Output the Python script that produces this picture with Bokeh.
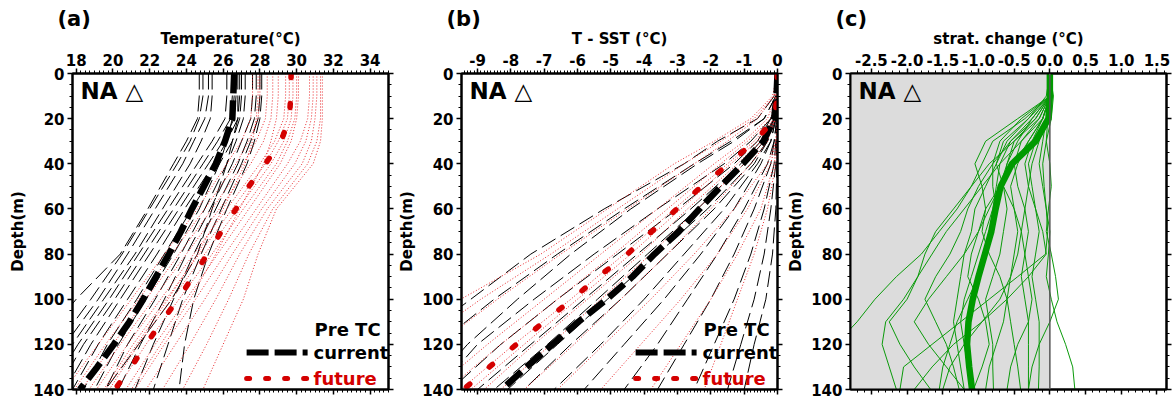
import numpy as np
from bokeh.plotting import figure
from bokeh.layouts import row
from bokeh.models import (Range1d, LinearAxis, FixedTicker, CustomJSTickFormatter,
                          PrintfTickFormatter, Label, BoxAnnotation, Span)
from bokeh.embed import file_html
from bokeh.resources import INLINE

FONT = "DejaVu Sans"

# ---------------- depth levels (m) ----------------
depth_mean = [0, 10, 20, 30, 40, 50, 60, 70, 80, 90, 100, 110, 120, 130, 140]
depth_member = [0, 10, 20, 30, 40, 60, 80, 100, 120, 140]
depth_ticks = [0, 20, 40, 60, 80, 100, 120, 140]

# ---------------- (a) temperature profiles (degC) ----------------
temp_ticks = [18, 20, 22, 24, 26, 28, 30, 32, 34]
temp_current_mean = [26.6, 26.55, 26.5, 26.1, 25.6, 24.95, 24.3, 23.7, 23.05, 22.35,
                     21.65, 20.9, 20.05, 19.15, 18.2]
temp_future_mean = [29.7, 29.68, 29.6, 29.15, 28.3, 27.4, 26.7, 25.9, 25.15, 24.35,
                    23.55, 22.65, 21.8, 21.0, 20.1]
temp_current_members = [
    [24.7, 24.7, 24.6, 24.0, 23.3, 21.9, 20.4, 18.0, 16.0, 14.5],
    [24.9, 24.9, 24.7, 24.2, 23.5, 22.0, 20.5, 18.8, 17.0, 15.3],
    [25.2, 25.2, 25.0, 24.4, 23.8, 22.3, 20.8, 19.2, 17.4, 15.8],
    [25.4, 25.4, 25.3, 24.8, 24.2, 22.7, 21.2, 19.5, 17.8, 16.2],
    [26.2, 26.2, 26.1, 25.4, 24.6, 23.0, 21.4, 19.8, 18.1, 16.6],
    [26.5, 26.5, 26.4, 25.7, 24.9, 23.3, 21.7, 20.1, 18.4, 17.0],
    [26.7, 26.7, 26.6, 26.0, 25.2, 23.6, 22.0, 20.4, 18.8, 17.4],
    [26.9, 26.9, 26.8, 26.2, 25.5, 23.9, 22.4, 20.8, 19.2, 17.8],
    [27.0, 27.0, 26.9, 26.5, 25.8, 24.3, 22.8, 21.3, 19.7, 18.4],
    [26.6, 26.6, 26.5, 26.2, 25.8, 24.7, 23.3, 21.8, 20.3, 19.0],
    [27.2, 27.2, 27.1, 26.7, 26.2, 25.0, 23.7, 22.3, 20.8, 19.6],
    [27.6, 27.6, 27.5, 27.0, 26.5, 25.3, 24.0, 22.8, 21.5, 20.3],
    [27.8, 27.8, 27.7, 27.3, 26.8, 25.6, 24.4, 23.3, 22.2, 21.2],
    [28.0, 28.0, 27.9, 27.5, 27.0, 25.9, 24.8, 23.8, 23.0, 22.2],
    [28.1, 28.1, 28.0, 27.7, 27.3, 26.2, 25.2, 24.4, 23.9, 23.6],
    [26.8, 26.8, 26.8, 26.5, 26.2, 25.4, 24.6, 23.2, 21.4, 19.6],
]
temp_future_members = [
    [27.6, 27.6, 27.5, 27.0, 26.2, 24.6, 22.8, 21.0, 19.2, 17.4],
    [28.0, 28.0, 27.9, 27.4, 26.7, 25.0, 23.2, 21.4, 19.6, 17.9],
    [28.4, 28.4, 28.3, 27.8, 27.1, 25.4, 23.6, 21.8, 20.0, 18.3],
    [28.7, 28.7, 28.6, 28.2, 27.5, 25.8, 24.0, 22.2, 20.4, 18.7],
    [29.4, 29.4, 29.3, 28.8, 28.0, 26.2, 24.4, 22.6, 20.8, 19.1],
    [29.6, 29.6, 29.5, 29.0, 28.3, 26.5, 24.7, 22.9, 21.1, 19.5],
    [29.8, 29.8, 29.7, 29.3, 28.6, 26.8, 25.0, 23.2, 21.4, 19.8],
    [30.0, 30.0, 29.9, 29.5, 28.9, 27.1, 25.4, 23.6, 21.8, 20.2],
    [30.1, 30.1, 30.0, 29.7, 29.1, 27.4, 25.7, 24.0, 22.3, 20.7],
    [30.7, 30.7, 30.6, 30.2, 29.5, 27.8, 26.1, 24.5, 22.8, 21.2],
    [30.9, 30.9, 30.8, 30.5, 29.9, 28.1, 26.5, 25.0, 23.4, 21.8],
    [31.1, 31.1, 31.0, 30.8, 30.3, 28.4, 26.9, 25.6, 24.2, 22.7],
    [31.3, 31.3, 31.3, 31.1, 30.6, 28.7, 27.4, 26.3, 25.1, 23.8],
    [31.4, 31.4, 31.4, 31.3, 30.9, 28.9, 27.9, 27.1, 26.0, 24.9],
    [27.9, 27.9, 27.8, 27.6, 27.2, 26.0, 24.6, 23.0, 21.3, 19.6],
    [29.0, 29.0, 28.9, 28.6, 28.2, 26.9, 25.6, 24.2, 22.6, 21.0],
]

# ---------------- (b) T - SST profiles (degC) ----------------
dsst_ticks = [-9, -8, -7, -6, -5, -4, -3, -2, -1, 0]
dsst_current_mean = [0, -0.03, -0.1, -0.42, -1.04, -1.70, -2.34, -2.96, -3.69, -4.35,
                     -5.12, -5.97, -6.75, -7.53, -8.27]
dsst_future_mean = [0, -0.02, -0.08, -0.68, -1.46, -2.28, -3.02, -3.77, -4.5, -5.37,
                    -6.16, -7.0, -7.83, -8.64, -9.42]
dsst_current_members = [
    [0, -0.05, -0.4, -1.4, -2.5, -4.6, -6.6, -8.5, -10.2, -11.6],
    [0, -0.05, -0.4, -1.3, -2.4, -4.4, -6.2, -7.8, -9.3, -10.5],
    [0, -0.02, -0.2, -0.8, -1.6, -3.6, -5.5, -7.3, -9.0, -10.2],
    [0, -0.02, -0.2, -0.6, -1.3, -3.0, -4.8, -6.6, -8.3, -9.8],
    [0, -0.02, -0.1, -0.5, -1.1, -2.6, -4.2, -5.8, -7.4, -9.0],
    [0, -0.02, -0.1, -0.4, -1.0, -2.4, -3.9, -5.4, -6.9, -8.5],
    [0, 0, -0.1, -0.3, -0.8, -2.1, -3.6, -5.1, -6.6, -8.1],
    [0, 0, -0.05, -0.3, -0.7, -1.9, -3.3, -4.7, -6.2, -7.6],
    [0, 0, -0.05, -0.2, -0.6, -1.6, -2.8, -4.0, -5.3, -6.7],
    [0, 0, -0.05, -0.2, -0.5, -1.3, -2.3, -3.4, -4.6, -5.8],
    [0, 0, -0.02, -0.1, -0.3, -1.0, -1.8, -2.7, -3.6, -4.6],
    [0, 0, -0.02, -0.1, -0.2, -0.7, -1.3, -2.0, -2.8, -3.6],
    [0, 0, 0, -0.05, -0.1, -0.4, -0.8, -1.3, -1.9, -2.5],
    [0, 0, 0, -0.02, -0.05, -0.2, -0.4, -0.7, -1.1, -1.5],
    [0, 0, 0, 0, -0.02, -0.05, -0.15, -0.35, -0.7, -1.0],
    [0, -0.1, -0.6, -1.8, -2.8, -5.2, -7.4, -9.2, -11.0, -12.5],
]
dsst_future_members = [
    [0, -0.15, -0.8, -1.9, -3.1, -5.1, -7.1, -9.5, -11.5, -13.0],
    [0, -0.1, -0.7, -1.7, -2.8, -4.8, -6.8, -8.9, -10.8, -12.4],
    [0, -0.1, -0.6, -1.5, -2.5, -4.5, -6.5, -8.4, -10.2, -11.8],
    [0, -0.05, -0.3, -1.0, -1.9, -3.6, -5.3, -7.0, -8.7, -10.3],
    [0, -0.05, -0.2, -0.9, -1.7, -3.3, -4.9, -6.6, -8.3, -9.9],
    [0, -0.02, -0.1, -0.7, -1.5, -3.1, -4.6, -6.2, -7.9, -9.5],
    [0, -0.02, -0.1, -0.6, -1.4, -2.9, -4.4, -6.0, -7.6, -9.2],
    [0, 0, -0.05, -0.5, -1.2, -2.7, -4.1, -5.7, -7.3, -8.8],
    [0, 0, -0.05, -0.4, -1.0, -2.4, -3.8, -5.3, -6.8, -8.3],
    [0, 0, -0.05, -0.3, -0.8, -2.0, -3.3, -4.7, -6.1, -7.6],
    [0, 0, 0, -0.02, -0.1, -0.5, -1.2, -2.0, -2.9, -3.8],
    [0, 0, 0, -0.05, -0.2, -0.9, -1.8, -2.9, -4.1, -5.3],
    [0, 0, 0, -0.05, -0.3, -1.3, -2.5, -3.8, -5.2, -6.6],
    [0, 0, 0, 0, -0.05, -0.3, -0.7, -1.2, -1.7, -2.2],
]

# ---------------- (c) stratification change (degC) ----------------
strat_ticks = [-2.5, -2.0, -1.5, -1.0, -0.5, 0.0, 0.5, 1.0, 1.5]
strat_mean = [0, 0, -0.02, -0.2, -0.53, -0.69, -0.76, -0.82, -0.91, -1.0,
              -1.08, -1.14, -1.16, -1.13, -1.09]
strat_members = [
    [0, 0, -0.15, -0.5, -0.85, -1.1, -1.3, -1.55, -1.8, -2.15, -2.45, -2.7, -3.0, -3.2, -3.4],
    [0, 0, -0.1, -0.4, -0.7, -0.95, -1.2, -1.45, -1.65, -1.85, -2.05, -2.3, -2.35, -2.25, -2.15],
    [0, 0, -0.03, -0.05, -0.1, -0.08, -0.05, -0.03, -0.06, -0.45, -0.85, -1.25, -1.65, -2.05, -2.1],
    [0, 0, -0.05, -0.1, -0.15, -0.1, -0.05, 0.0, -0.02, -0.05, 0.02, 0.1, 0.22, 0.32, 0.35],
    [0, 0.05, 0.02, -0.05, 0.0, 0.02, -0.02, -0.05, 0.02, 0.08, 0.12, 0.0, -0.15, -0.25, -0.3],
    [0, 0, -0.45, -0.9, -1.05, -0.95, -0.9, -1.0, -1.2, -1.45, -1.7, -1.9, -1.7, -1.45, -1.2],
    [0, 0, -0.35, -0.8, -0.95, -1.1, -1.35, -1.6, -1.75, -1.85, -2.0, -2.25, -2.1, -1.9, -1.67],
    [0, 0, -0.3, -0.6, -0.75, -0.9, -1.05, -1.1, -1.2, -1.25, -1.3, -1.35, -1.3, -1.25, -1.2],
    [0, 0, -0.2, -0.55, -0.7, -0.75, -0.8, -0.9, -1.0, -1.1, -1.2, -1.25, -1.2, -1.15, -1.05],
    [0, 0, -0.25, -0.45, -0.6, -0.65, -0.6, -0.65, -0.7, -0.8, -0.9, -0.85, -0.8, -0.8, -0.79],
    [0, 0, -0.1, -0.3, -0.45, -0.55, -0.5, -0.45, -0.5, -0.55, -0.6, -0.55, -0.5, -0.45, -0.41],
    [0, 0, -0.15, -0.4, -0.5, -0.45, -0.35, -0.3, -0.35, -0.4, -0.35, -0.3, -0.3, -0.3, -0.3],
    [0, 0, -0.05, -0.2, -0.3, -0.25, -0.2, -0.15, -0.2, -0.25, -0.2, -0.15, -0.15, -0.15, -0.16],
    [0, 0, -0.2, -0.5, -0.6, -0.7, -0.85, -1.0, -1.1, -1.15, -1.0, -0.9, -0.85, -0.95, -1.07],
    [0, 0, -0.4, -0.7, -0.8, -0.8, -0.75, -0.8, -0.9, -1.0, -1.15, -1.3, -1.4, -1.5, -1.55],
    [0, 0, -0.1, -0.3, -0.5, -0.7, -0.9, -0.95, -0.85, -0.7, -0.6, -0.65, -0.75, -0.85, -0.9],
    [0, -0.05, -0.3, -0.65, -0.75, -0.65, -0.5, -0.4, -0.45, -0.55, -0.7, -0.95, -1.2, -1.4, -1.5],
    [0, 0, -0.1, -0.25, -0.35, -0.3, -0.2, -0.1, -0.05, -0.3, -0.6, -0.95, -1.35, -1.65, -1.9],
    [0, 0, -0.05, -0.15, -0.25, -0.3, -0.35, -0.4, -0.35, -0.3, -0.25, -0.3, -0.45, -0.55, -0.6],
    [0, 0, -0.25, -0.55, -0.8, -1.0, -1.15, -1.25, -1.4, -1.6, -1.75, -1.6, -1.45, -1.35, -1.27],
]

# ---------------- styling ----------------
BLACK = "#000000"
RED = "#d40000"
RED_THIN = "#e8262a"
GREEN = "#0a9a0a"
FRAME_W, FRAME_H = 316, 316


def style_axis(ax, labelled):
    ax.axis_line_width = 2
    ax.axis_line_color = BLACK
    ax.major_tick_out = 5
    ax.major_tick_in = 0
    ax.minor_tick_out = 3
    ax.minor_tick_in = 0
    ax.major_tick_line_width = 1.5
    ax.minor_tick_line_width = 1
    if labelled:
        ax.major_label_text_font = FONT
        ax.major_label_text_font_style = "bold"
        ax.major_label_text_font_size = "15px"
        ax.major_label_text_color = BLACK
        ax.major_label_standoff = 3
        ax.axis_label_text_font = FONT
        ax.axis_label_text_font_style = "bold"
        ax.axis_label_text_font_size = "15px"
        ax.axis_label_text_color = BLACK
        ax.axis_label_standoff = 3
    else:
        ax.formatter = CustomJSTickFormatter(code="return ''")
        ax.major_label_text_font_size = "0px"
        ax.major_label_standoff = 0


def make_panel(tag, xlabel, x_range, ticks, minor_step, fmt, width, b_left, b_right):
    p = figure(width=width, height=401, x_range=Range1d(*x_range), y_range=Range1d(140, 0),
               x_axis_location="above", y_axis_location="left",
               output_backend="svg", toolbar_location=None,
               min_border_left=b_left, min_border_right=b_right,
               min_border_top=73, min_border_bottom=12, title=tag)
    p.title.text_font = FONT
    p.title.text_font_style = "bold"
    p.title.text_font_size = "21px"
    p.title.text_color = BLACK
    p.title.align = "left"
    p.title.offset = -15
    p.title.standoff = -9
    p.grid.visible = False
    p.outline_line_color = BLACK
    p.outline_line_width = 2
    p.background_fill_color = "white"
    p.border_fill_color = "white"
    p.add_layout(LinearAxis(), "below")
    p.add_layout(LinearAxis(), "right")

    x_minor = list(np.arange(ticks[0] - 2, ticks[-1] + 2, minor_step))
    xt = FixedTicker(ticks=ticks, minor_ticks=x_minor)
    yt = FixedTicker(ticks=depth_ticks, minor_ticks=list(range(0, 141, 5)))

    top_ax = [item for item in p.above if isinstance(item, LinearAxis)][0]
    bottom_ax = p.below[0]
    left_ax, right_ax = p.left[0], p.right[0]
    for ax in (top_ax, bottom_ax):
        ax.ticker = xt
    for ax in (left_ax, right_ax):
        ax.ticker = yt
    style_axis(top_ax, True)
    style_axis(left_ax, True)
    style_axis(bottom_ax, False)
    style_axis(right_ax, False)
    top_ax.axis_label = xlabel
    top_ax.formatter = PrintfTickFormatter(format=fmt)
    left_ax.axis_label = "Depth(m)"
    return p


def add_region_tag(p):
    p.add_layout(Label(x=8, y=FRAME_H - 17, x_units="screen", y_units="screen",
                       text="NA △", text_font=FONT, text_font_style="bold",
                       text_font_size="23px", text_color=BLACK, text_baseline="middle"))


def frame_point(p, fx, fy_top):
    xr, yr = p.x_range, p.y_range
    return (xr.start + fx * (xr.end - xr.start), yr.end + fy_top * (yr.start - yr.end))


def add_key(p):
    # "Pre TC" key with current / future line samples
    for fy, color, dash, lw, cap, text in (
            (0.883, BLACK, "22 6", 6, "butt", "current"),
            (0.965, RED, "3 16", 5, "round", "future")):
        x0, y0 = frame_point(p, 0.551, fy)
        x1, _ = frame_point(p, 0.744, fy)
        p.line([x0, x1], [y0, y0], line_color=color, line_dash=dash,
               line_width=lw, line_cap=cap)
        p.add_layout(Label(x=0.763 * FRAME_W, y=(1 - fy) * FRAME_H,
                           x_units="screen", y_units="screen", text=text,
                           text_font=FONT, text_font_style="bold", text_font_size="18px",
                           text_color=color, text_baseline="middle"))
    p.add_layout(Label(x=0.975 * FRAME_W, y=(1 - 0.81) * FRAME_H,
                       x_units="screen", y_units="screen", text="Pre TC",
                       text_font=FONT, text_font_style="bold", text_font_size="18px",
                       text_color=BLACK, text_align="right", text_baseline="middle"))


def draw_profiles(p, cur_members, fut_members, cur_mean, fut_mean):
    p.multi_line(xs=cur_members, ys=[depth_member] * len(cur_members),
                 line_color=BLACK, line_width=1, line_dash="16 6")
    p.multi_line(xs=fut_members, ys=[depth_member] * len(fut_members),
                 line_color=RED_THIN, line_width=1, line_dash="1 2")
    p.line(cur_mean, depth_mean, line_color=BLACK, line_width=6.5,
           line_dash="20 7", line_cap="butt")
    p.line(fut_mean, depth_mean, line_color=RED, line_width=5.5,
           line_dash="4 26", line_cap="round")


# (a) temperature
pa = make_panel("(a)", "Temperature(°C)", (17.8, 35.0), temp_ticks, 0.25, "%d", 394, 72, 6)
draw_profiles(pa, temp_current_members, temp_future_members, temp_current_mean, temp_future_mean)
add_region_tag(pa)
add_key(pa)

# (b) departure from SST
pb = make_panel("(b)", "T - SST (°C)", (-9.48, 0.0), dsst_ticks, 0.1, "%d", 390, 67, 7)
draw_profiles(pb, dsst_current_members, dsst_future_members, dsst_current_mean, dsst_future_mean)
add_region_tag(pb)
add_key(pb)

# (c) stratification change
pc = make_panel("(c)", "strat. change (°C)", (-2.793, 1.634), strat_ticks, 0.1, "%.1f", 392, 65, 10)
pc.add_layout(BoxAnnotation(right=0, fill_color="#dcdcdc", fill_alpha=1.0,
                            line_alpha=0, level="underlay"))
pc.add_layout(Span(location=0, dimension="height", line_color="#555555", line_width=1.5))
pc.multi_line(xs=strat_members, ys=[depth_mean] * len(strat_members),
              line_color=GREEN, line_width=1)
pc.line(strat_mean, depth_mean, line_color="#009a00", line_width=6.5, line_join="round")
add_region_tag(pc)

layout = row(pa, pb, pc)
open("out.html", "w").write(file_html(layout, INLINE))
